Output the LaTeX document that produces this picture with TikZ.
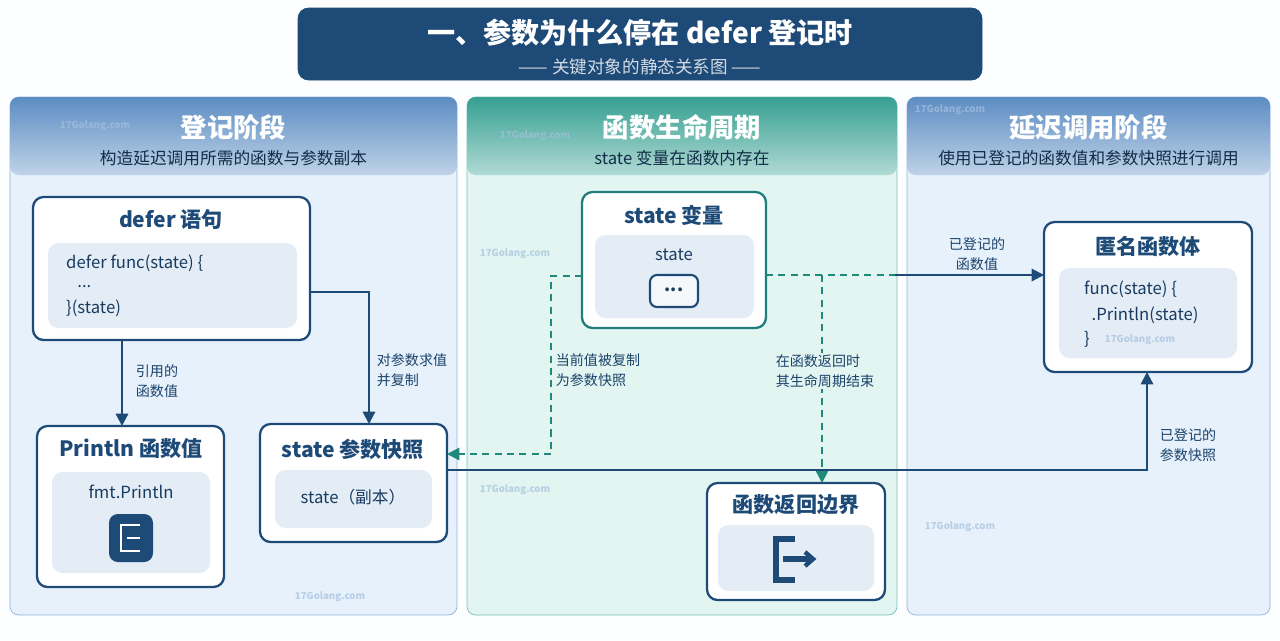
\documentclass[tikz,border=0pt]{standalone}
\usepackage{fontspec}
\setmainfont{Noto Sans CJK SC}
\usetikzlibrary{arrows.meta}
\definecolor{navy}{HTML}{1E4A78}
\definecolor{teal}{HTML}{1F8A7C}
\definecolor{lbg}{HTML}{E6F1FB}
\definecolor{mbg}{HTML}{E2F5F0}
\definecolor{inner}{HTML}{E4EDF6}
\definecolor{hblue}{HTML}{4A80BC}
\definecolor{hteal}{HTML}{1F9585}
\begin{document}
\begin{tikzpicture}[x=0.02cm,y=-0.02cm,
 box/.style={draw=navy,line width=1.3pt,fill=white,rounded corners=6pt},
 inbox/.style={fill=inner,rounded corners=6pt},
 ttl/.style={text=navy,font=\fontsize{12}{14}\selectfont\bfseries},
 txt/.style={text=navy!80!black,font=\fontsize{9.5}{11}\selectfont,align=left},
 lab/.style={text=navy!90!black,font=\fontsize{8}{11.5}\selectfont,align=left},
 arr/.style={draw=navy,line width=1.2pt,-{Triangle[length=7pt,width=7pt]}},
 darr/.style={draw=teal,line width=1.2pt,dash pattern=on 4pt off 3pt,-{Triangle[length=7pt,width=7pt]}},
 wm/.style={text=hblue!50,font=\fontsize{5.5}{6}\selectfont\bfseries,opacity=0.7}]
\useasboundingbox (0,0) rectangle (1280,640);
\fill[white!94!lbg] (0,0) rectangle (1280,640);
% title
\draw[navy,fill=navy,rounded corners=6pt] (298,8) rectangle (982,80);
\node[text=white,font=\fontsize{16}{18}\selectfont\bfseries] (title) at (640,33) {一、参数为什么停在 defer 登记时};
\node[text=white!80!navy,font=\fontsize{10}{12}\selectfont] (sub) at (640,67) {—— 关键对象的静态关系图 ——};
% panels
\foreach \xa/\xb/\hc/\bc/\t/\s [count=\i] in {10/457/hblue/lbg/登记阶段/构造延迟调用所需的函数与参数副本,467/897/hteal/mbg/函数生命周期/state 变量在函数内存在,907/1270/hblue/lbg/延迟调用阶段/使用已登记的函数值和参数快照进行调用}{
 \draw[\hc!60,fill=\bc,rounded corners=5pt] (\xa,97) rectangle (\xb,615);
 \shade[top color=\hc!90,bottom color=\hc!35!white,rounded corners=5pt] (\xa,97) rectangle (\xb,175);
 \node[text=white,font=\fontsize{15}{17}\selectfont\bfseries] (pt\i) at ({(\xa+\xb)/2},127) {\t};
 \node[text=navy!60!black,font=\fontsize{9.5}{11}\selectfont] (ps\i) at ({(\xa+\xb)/2},158) {\s};
}
% defer node
\draw[box] (33,197) rectangle (310,340);
\node[ttl] at (171,220) {defer 语句};
\fill[inbox] (48,243) rectangle (297,328);
\node[txt,anchor=west] at (60,263) {defer func(state) \{};
\node[txt,anchor=west] at (60,287) {\ \ \ ...};
\node[txt,anchor=west] at (60,308) {\}(state)};
\coordinate (dB) at (122,340); \coordinate (dR) at (310,292);
% println
\draw[box] (37,426) rectangle (224,587);
\node[ttl] at (131,449) {Println 函数值};
\fill[inbox] (52,472) rectangle (210,573);
\node[txt] at (131,492) {fmt.Println};
\fill[navy,rounded corners=5pt] (109,514) rectangle (153,562);
\draw[white,line width=1.6pt] (140,525)--(121,525)--(121,551)--(140,551) (127,538)--(140,538);
\coordinate (pT) at (122,426);
% snapshot
\draw[box] (260,424) rectangle (447,542);
\node[ttl] at (353,449) {state 参数快照};
\fill[inbox] (275,470) rectangle (432,528);
\node[txt] at (353,497) {state（副本）};
\coordinate (sT) at (369,424); \coordinate (sR) at (447,454); \coordinate (sR2) at (447,470);
% state var
\draw[box,draw=teal!80!navy] (582,192) rectangle (766,328);
\node[ttl] at (674,215) {state 变量};
\fill[inbox] (595,235) rectangle (754,318);
\node[txt] at (674,255) {state};
\draw[navy,line width=1.2pt,fill=white!60!inner,rounded corners=4pt] (650,275) rectangle (698,307);
\node[txt,font=\bfseries] at (674,290) {...};
\coordinate (vL) at (582,276); \coordinate (vR) at (766,275);
% return boundary
\draw[box] (707,483) rectangle (885,600);
\node[ttl] at (796,505) {函数返回边界};
\fill[inbox] (718,525) rectangle (874,591);
\draw[navy,line width=3pt] (795,539)--(776,539)--(776,580)--(795,580) (783,559)--(812,559);
\draw[navy,line width=2.5pt] (805,552)--(813,559)--(805,566);
\coordinate (rT) at (822,483);
% anon func
\draw[box] (1044,222) rectangle (1252,372);
\node[ttl] at (1148,246) {匿名函数体};
\fill[inbox] (1059,268) rectangle (1237,358);
\node[txt,anchor=west] at (1078,289) {func(state) \{};
\node[txt,anchor=west] at (1078,315) {\ \ .Println(state)};
\node[txt,anchor=west] at (1078,339) {\}};
\coordinate (aL) at (1044,275); \coordinate (aB) at (1147,372);
% connectors
\draw[arr] (dB) -- (pT);
\node[lab] at (157,381) {引用的\\函数值};
\draw[arr] (dR) -| (sT);
\node[lab] at (412,370) {对参数求值\\并复制};
\draw[darr] (vL) -- (551,276) |- (sR);
\node[lab] at (598,370) {当前值被复制\\为参数快照};
\draw[teal,line width=1.2pt,dash pattern=on 4pt off 3pt] (vR) -- (895,275);
\draw[arr] (895,275) -- (aL);
\node[lab,align=center] at (977,254) {已登记的\\函数值};
\draw[darr] (822,275) -- (rT);
\node[lab,fill=mbg,inner sep=1pt] at (825,371) {在函数返回时\\其生命周期结束};
\draw[arr] (sR2) -| (aB);
\node[lab] at (1188,445) {已登记的\\参数快照};
% watermarks
\foreach \x/\y in {95/126,535/136,515/254,515/490,950/110,960/527,330/597,1140/340}{
 \node[wm] at (\x,\y) {17Golang.com};}
\end{tikzpicture}
\end{document}
